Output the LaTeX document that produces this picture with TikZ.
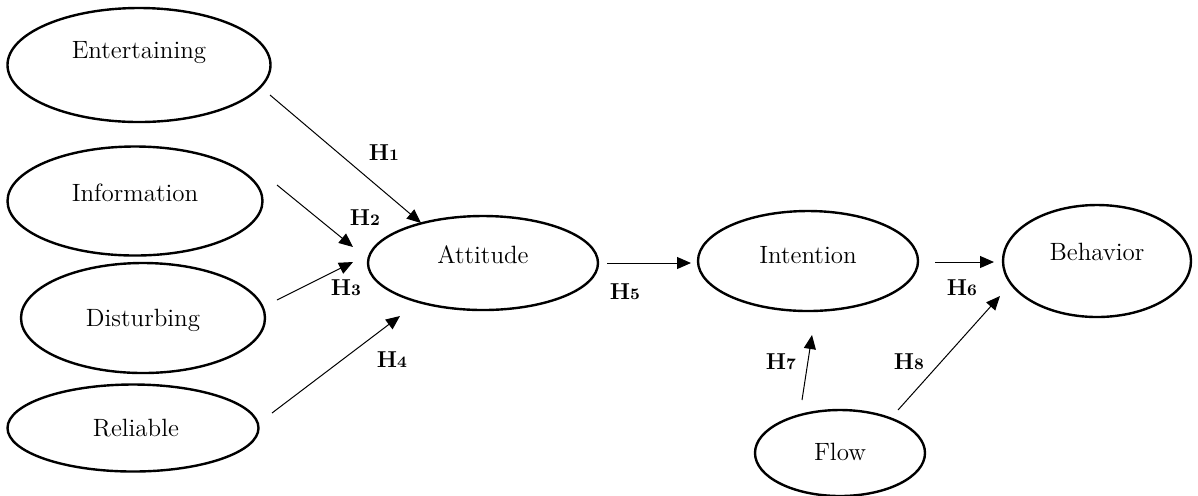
\documentclass[tikz,border=0pt]{standalone}
\usetikzlibrary{shapes.geometric,arrows.meta}
\begin{document}
\begin{tikzpicture}[x=0.5pt,y=-0.5pt,
  oval/.style={draw,ellipse,line width=1.2pt,inner sep=0pt},
  txt/.style={font=\fontsize{12.5}{14}\selectfont},
  hyp/.style={font=\fontsize{11.5}{13}\selectfont\bfseries},
  arr/.style={line width=0.5pt,-{Triangle[length=7pt,width=6pt]}}]
\useasboundingbox (0,0) rectangle (1198,495);
% ellipses
\node[oval,minimum width=131.5pt,minimum height=57pt] (ent) at (139,65) {};
\node[txt] (entt) at (139,53) {Entertaining};
\node[oval,minimum width=127.5pt,minimum height=54.5pt] (inf) at (135,201) {};
\node[txt] (inft) at (135,193) {Information};
\node[oval,minimum width=122pt,minimum height=55pt] (dis) at (143,318) {};
\node[txt] (dist) at (143,320) {Disturbing};
\node[oval,minimum width=125.5pt,minimum height=43.5pt] (rel) at (133,428) {};
\node[txt] (relt) at (136,428) {Reliable};
\node[oval,minimum width=115pt,minimum height=47pt] (att) at (483,263) {};
\node[txt] (attt) at (483,255) {Attitude};
\node[oval,minimum width=110pt,minimum height=50pt] (int) at (808,261) {};
\node[txt] (intt) at (808,255) {Intention};
\node[oval,minimum width=94pt,minimum height=56pt] (beh) at (1097,261) {};
\node[txt] (beht) at (1097,252) {Behavior};
\node[oval,minimum width=85pt,minimum height=43pt] (flo) at (840,453) {};
\node[txt] (flot) at (840,452) {Flow};
% arrow endpoints
\coordinate (h1s) at (270,95);  \coordinate (h1e) at (421,223);
\coordinate (h2s) at (277,185); \coordinate (h2e) at (353,247);
\coordinate (h3s) at (277,300); \coordinate (h3e) at (353,262);
\coordinate (h4s) at (272,413); \coordinate (h4e) at (400,316);
\coordinate (h5s) at (607,263); \coordinate (h5e) at (691,263);
\coordinate (h6s) at (935,262); \coordinate (h6e) at (994,262);
\coordinate (h7s) at (802,400); \coordinate (h7e) at (812,335);
\coordinate (h8s) at (898,410); \coordinate (h8e) at (1000,296);
\draw[arr] (h1s) -- (h1e);
\draw[arr] (h2s) -- (h2e);
\draw[arr] (h3s) -- (h3e);
\draw[arr] (h4s) -- (h4e);
\draw[arr] (h5s) -- (h5e);
\draw[arr] (h6s) -- (h6e);
\draw[arr] (h7s) -- (h7e);
\draw[arr] (h8s) -- (h8e);
% labels
\node[hyp] (l1) at (384,153) {H\raisebox{0pt}{\fontsize{8}{9}\selectfont 1}};
\node[hyp] (l2) at (365,218) {H\raisebox{0pt}{\fontsize{8}{9}\selectfont 2}};
\node[hyp] (l3) at (346,288) {H\raisebox{0pt}{\fontsize{8}{9}\selectfont 3}};
\node[hyp] (l4) at (392,360) {H\raisebox{0pt}{\fontsize{8}{9}\selectfont 4}};
\node[hyp] (l5) at (625,292) {H\raisebox{0pt}{\fontsize{8}{9}\selectfont 5}};
\node[hyp] (l6) at (962,288) {H\raisebox{0pt}{\fontsize{8}{9}\selectfont 6}};
\node[hyp] (l7) at (781,362) {H\raisebox{0pt}{\fontsize{8}{9}\selectfont 7}};
\node[hyp] (l8) at (909,362) {H\raisebox{0pt}{\fontsize{8}{9}\selectfont 8}};
\end{tikzpicture}
\end{document}
